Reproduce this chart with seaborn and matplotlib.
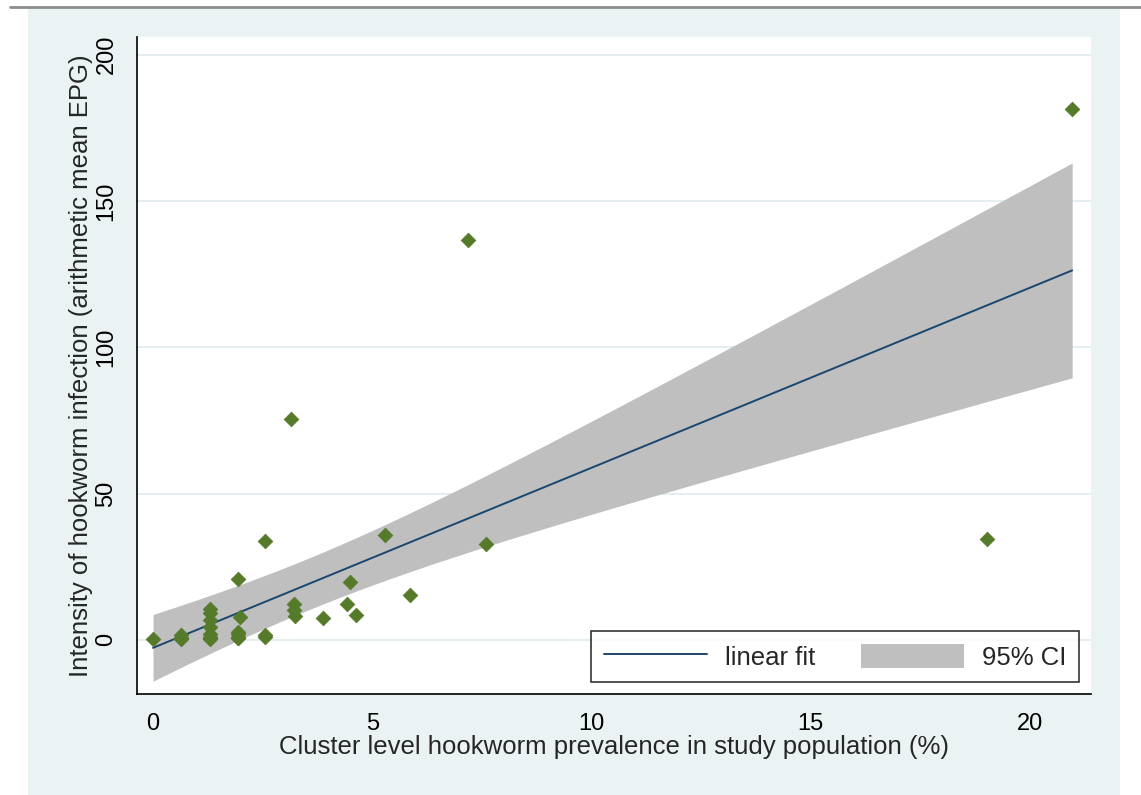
import numpy as np
import pandas as pd
import matplotlib
matplotlib.use("Agg")
import matplotlib.pyplot as plt
import seaborn as sns
from matplotlib.lines import Line2D
from matplotlib.patches import Patch, Rectangle


# =========================================================
# DATA (some markers overlap)
# =========================================================

prevalence = [
    0.0, 0.64, 0.64, 0.64, 0.64,
    1.30, 1.30, 1.30, 1.30, 1.30, 1.30, 1.30, 1.30,
    1.94, 1.94, 1.94, 1.94, 1.94, 1.94, 1.98,
    2.55, 2.55, 2.55, 3.15, 3.22, 3.22, 3.24,
    3.88, 4.42, 4.50, 4.63, 5.29, 5.87,
    7.18, 7.59, 19.02, 20.96,
]

intensity = [
    0.3, 0.8, 1.5, 0.4, 0.5,
    10.5, 9.3, 6.8, 4.3, 1.1, 0.6, 0.4, 2.0,
    20.9, 2.8, 1.9, 0.7, 0.5, 1.0, 7.9,
    33.8, 1.7, 1.0, 75.5, 12.3, 10.1, 8.1,
    7.5, 12.2, 19.8, 8.5, 35.9, 15.3,
    136.7, 32.8, 34.5, 181.5,
]

X_TICKS = [0, 5, 10, 15, 20]
Y_TICKS = [0, 50, 100, 150, 200]

X_LABEL = "Cluster level hookworm prevalence in study population (%)"
Y_LABEL = "Intensity of hookworm infection (arithmetic mean EPG)"

df = pd.DataFrame({"prev": prevalence, "epg": intensity})


# =========================================================
# LINEAR FIT + 95% CI (of the mean prediction)
# =========================================================

x = df["prev"].to_numpy()
y = df["epg"].to_numpy()
n = len(x)

slope, intercept = np.polyfit(x, y, 1)
resid = y - (intercept + slope * x)
s_err = np.sqrt(np.sum(resid ** 2) / (n - 2))
sxx = np.sum((x - x.mean()) ** 2)

T_CRIT = 2.030  # t(0.975, df=35)

grid = np.linspace(x.min(), x.max(), 200)
fit = intercept + slope * grid
half = T_CRIT * s_err * np.sqrt(1 / n + (grid - x.mean()) ** 2 / sxx)


# =========================================================
# STYLE
# =========================================================

sns.set_theme(style="white")
plt.rcParams["font.family"] = ["Liberation Sans", "DejaVu Sans"]

PANEL = "#eaf2f3"
GRID = "#dfeaec"
BAND = "#bfbfbf"
LINE = "#1a476f"
MARK = "#557a2a"


# =========================================================
# FIGURE
# =========================================================

fig = plt.figure(figsize=(11.41, 7.95), dpi=100, facecolor="white")

fig.add_artist(Rectangle(
    (28 / 1141, 0), (1120 - 28) / 1141, (795 - 8) / 795,
    transform=fig.transFigure, facecolor=PANEL, edgecolor="none", zorder=0
))
fig.add_artist(Line2D(
    [10 / 1141, 1], [1 - 7 / 795, 1 - 7 / 795],
    transform=fig.transFigure, color="#8c8c8c", lw=2
))

ax = fig.add_axes([
    137 / 1141,
    1 - 694 / 795,
    (1091 - 137) / 1141,
    (694 - 37) / 795,
])
ax.set_facecolor("white")

ax.fill_between(grid, fit - half, fit + half, color=BAND, lw=0, zorder=1)

sns.lineplot(x=grid, y=fit, color=LINE, lw=1.4, ax=ax, zorder=2)

sns.scatterplot(
    data=df, x="prev", y="epg",
    marker="D", s=55, color=MARK, edgecolor=MARK, linewidth=0.6,
    ax=ax, zorder=3
)

ax.set_xlim(-0.365, 21.39)
ax.set_ylim(-18.5, 206)

ax.set_xticks(X_TICKS)
ax.set_yticks(Y_TICKS)
ax.set_yticklabels([str(v) for v in Y_TICKS], rotation=90, va="center")

ax.tick_params(axis="both", direction="out", length=8, width=1.1,
               colors="black", labelsize=17, pad=6)

ax.yaxis.grid(True, color=GRID, lw=1.2)
ax.xaxis.grid(False)
ax.set_axisbelow(True)

for side in ["top", "right"]:
    ax.spines[side].set_visible(False)
for side in ["left", "bottom"]:
    ax.spines[side].set_color("black")
    ax.spines[side].set_linewidth(1.2)

ax.set_xlabel(X_LABEL, fontsize=18.5, labelpad=0)
ax.set_ylabel(Y_LABEL, fontsize=18.5, labelpad=2)

handles = [
    Line2D([0], [0], color=LINE, lw=1.4),
    Patch(facecolor=BAND, edgecolor="none"),
]
leg = ax.legend(
    handles, ["linear fit", "95% CI"],
    loc="lower right", ncol=2, fontsize=18.5,
    frameon=True, fancybox=False, edgecolor="black",
    handlelength=4.0, handleheight=1.1, handletextpad=0.7,
    columnspacing=1.8, borderaxespad=0.45, borderpad=0.5,
)
leg.get_frame().set_linewidth(1.2)

plt.savefig("out.png", dpi=100, facecolor=fig.get_facecolor())
plt.close()
